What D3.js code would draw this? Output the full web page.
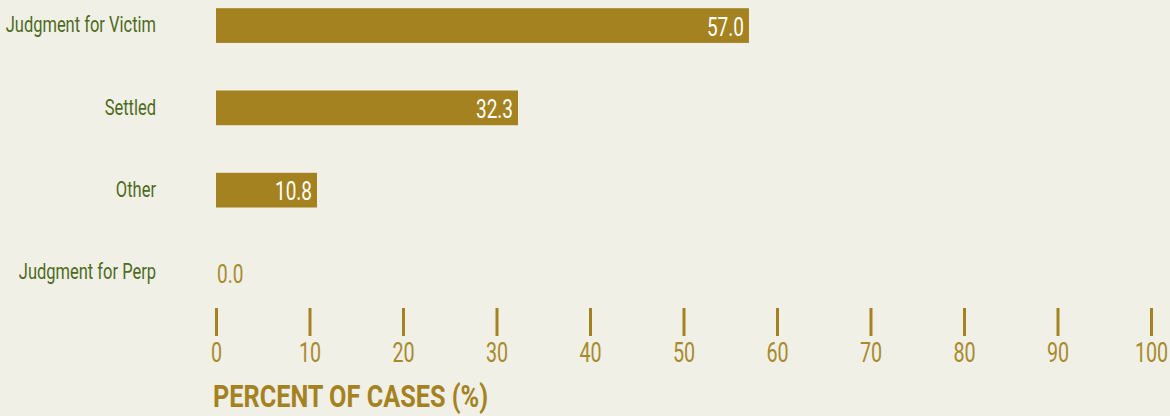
<!DOCTYPE html>
<html>
<head>
<meta charset="utf-8">
<script src="https://cdn.jsdelivr.net/npm/d3@7"></script>
<style>
  html, body { margin: 0; padding: 0; background: #f0f0e7; }
  svg { display: block; }
  text { font-family: Roboto, "Noto Sans", sans-serif; }
</style>
</head>
<body>
<svg id="chart" width="1170" height="416"></svg>
<script>
// Outcome categories and share of cases (%)
const categories = ["Judgment for Victim", "Settled", "Other", "Judgment for Perp"];
const values = [57.0, 32.3, 10.8, 0.0];
const tickValues = [0, 10, 20, 30, 40, 50, 60, 70, 80, 90, 100];
const axisTitle = "PERCENT OF CASES (%)";

const gold = "#a4821f";
const green = "#4e6a1c";
const narrow = 0.73; // horizontal squeeze for a condensed look

const svg = d3.select("#chart");
const W = 1170, H = 416;
svg.append("rect").attr("width", W).attr("height", H).attr("fill", "#f0f0e7");

const x = d3.scaleLinear().domain([0, 100]).range([216, 1151]);
const y = d3.scaleBand().domain(categories).range([8.2, 289.8]).paddingInner(0.578).paddingOuter(0);

const rows = categories.map((c, i) => ({ cat: c, val: values[i] }));

// bars
svg.selectAll("rect.bar").data(rows.filter(d => d.val > 0)).enter().append("rect")
  .attr("class", "bar")
  .attr("x", x(0))
  .attr("y", d => y(d.cat))
  .attr("width", d => x(d.val) - x(0))
  .attr("height", y.bandwidth())
  .attr("fill", gold);

// category labels
svg.selectAll("text.cat").data(rows).enter().append("text")
  .attr("class", "cat")
  .attr("transform", d => `translate(156,${y(d.cat) + y.bandwidth() / 2 - 1}) scale(${narrow},1)`)
  .attr("dy", "0.35em")
  .attr("text-anchor", "end")
  .attr("fill", green)
  .attr("font-size", 22.6)
  .text(d => d.cat);

// value labels: inside bar end, or beside the axis when the bar is empty
svg.selectAll("text.val").data(rows).enter().append("text")
  .attr("class", "val")
  .attr("transform", d => {
    const tx = d.val > 5 ? x(d.val) - 5 : x(d.val) + 1;
    return `translate(${tx},${y(d.cat) + y.bandwidth() / 2 + 1}) scale(${narrow},1)`;
  })
  .attr("dy", "0.355em")
  .attr("text-anchor", d => d.val > 5 ? "end" : "start")
  .attr("fill", d => d.val > 5 ? "#ffffff" : "#a88a2c")
  .attr("font-size", 26)
  .text(d => d.val.toFixed(1));

// axis
const axis = d3.axisBottom(x).tickValues(tickValues).tickSize(28).tickPadding(7).tickFormat(d3.format("d"));
const gAxis = svg.append("g").attr("transform", "translate(0,308)").call(axis);
gAxis.select(".domain").remove();
gAxis.selectAll(".tick line").attr("stroke", gold).attr("stroke-width", 3);
gAxis.selectAll(".tick text")
  .attr("fill", "#a88a2c")
  .attr("font-size", 27)
  .attr("font-family", "Roboto, sans-serif")
  .attr("transform", `scale(${narrow},1)`);

// axis title
svg.append("text")
  .attr("transform", `translate(213,407) scale(0.815,1)`)
  .attr("fill", gold)
  .attr("font-size", 31)
  .attr("font-weight", "bold")
  .text(axisTitle);
</script>
</body>
</html>
